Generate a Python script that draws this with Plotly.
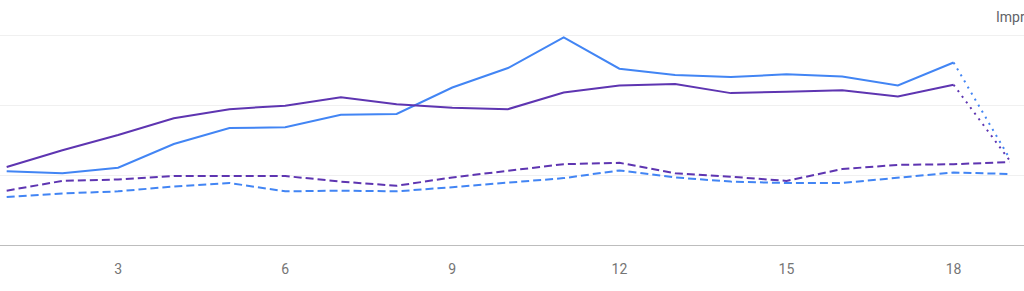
import plotly.graph_objects as go

days = list(range(1, 20))
tick_vals = [3, 6, 9, 12, 15, 18]

# values in chart units (one gridline step = 1)
clicks_current = [1.06, 1.03, 1.11, 1.45, 1.68, 1.69, 1.87, 1.88, 2.26, 2.54,
                  2.98, 2.53, 2.44, 2.41, 2.45, 2.42, 2.29, 2.62, 1.25]
impr_current = [1.12, 1.36, 1.58, 1.82, 1.95, 2.00, 2.12, 2.02, 1.97, 1.95,
                2.19, 2.29, 2.31, 2.18, 2.20, 2.22, 2.13, 2.30, 1.22]
impr_previous = [0.78, 0.92, 0.94, 0.99, 0.99, 0.99, 0.91, 0.85, 0.97, 1.07,
                 1.16, 1.18, 1.03, 0.98, 0.92, 1.09, 1.15, 1.16, 1.19]
clicks_previous = [0.69, 0.74, 0.77, 0.84, 0.89, 0.77, 0.78, 0.77, 0.83, 0.89,
                   0.96, 1.07, 0.97, 0.91, 0.89, 0.89, 0.97, 1.04, 1.02]

BLUE = "#4285F4"
PURPLE = "#5E35B1"

fig = go.Figure()

def add_current(vals, color, name):
    # solid until the last complete day, dotted for the final partial day
    fig.add_trace(go.Scatter(x=days[:-1], y=vals[:-1], mode="lines", name=name,
                             line=dict(color=color, width=2)))
    fig.add_trace(go.Scatter(x=days[-2:], y=vals[-2:], mode="lines", name=name,
                             showlegend=False,
                             line=dict(color=color, width=2, dash="2px,5px")))

fig.add_trace(go.Scatter(x=days, y=clicks_previous, mode="lines", name="Clicks (previous)",
                         line=dict(color=BLUE, width=2, dash="8px,4px")))
fig.add_trace(go.Scatter(x=days, y=impr_previous, mode="lines", name="Impressions (previous)",
                         line=dict(color=PURPLE, width=2, dash="8px,4px")))
add_current(clicks_current, BLUE, "Clicks")
add_current(impr_current, PURPLE, "Impressions")

fig.update_layout(
    width=1024, height=291,
    margin=dict(l=0, r=0, t=30, b=46),
    paper_bgcolor="white", plot_bgcolor="white",
    showlegend=False,
    font=dict(family="Roboto", color="#757575", size=14),
    xaxis=dict(range=[0.88, 19.264], tickvals=tick_vals, showgrid=False,
               zeroline=False, showline=True, linecolor="#BDBDBD", linewidth=1,
               ticks="outside", ticklen=11, tickcolor="rgba(0,0,0,0)",
               tickfont=dict(size=14, color="#757575")),
    yaxis=dict(range=[0, 3.086], tickvals=[1, 2, 3], showticklabels=False,
               showgrid=True, gridcolor="#F0F0F0", gridwidth=1,
               zeroline=False, showline=False),
    annotations=[dict(text="Impressions", xref="paper", yref="paper",
                      x=994 / 1024, y=(245 - 17) / 215, xanchor="left",
                      yanchor="middle", showarrow=False,
                      font=dict(size=14, color="#5F6368", family="Roboto"))],
)

fig.write_html("out.html")
